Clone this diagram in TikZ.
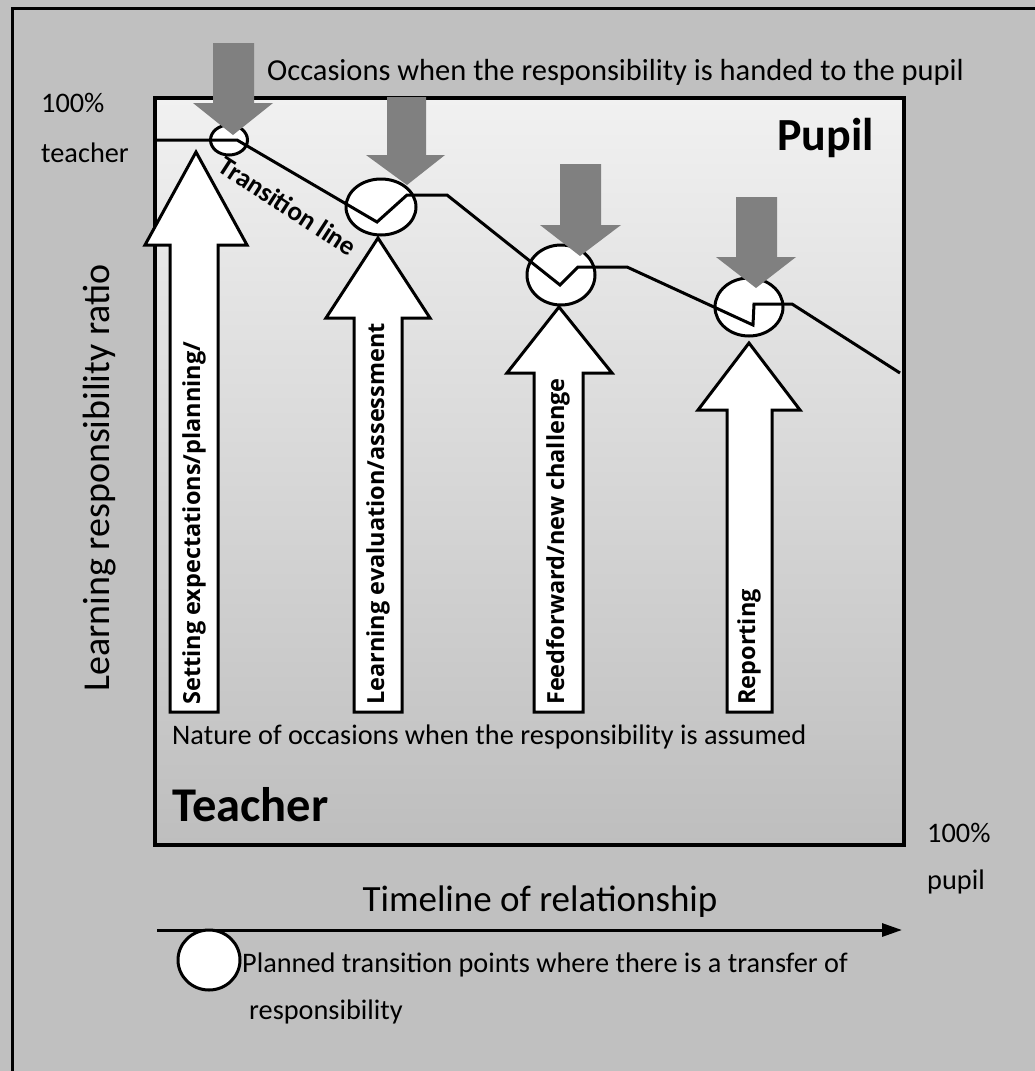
\documentclass[tikz,border=0pt]{standalone}
\usepackage{fontspec}
\setmainfont{Carlito}
\newfontfamily\arrowfont{Open Sans}
\usetikzlibrary{arrows.meta,shapes.geometric}
\definecolor{bg}{RGB}{192,192,192}
\definecolor{boxtop}{RGB}{241,241,241}
\definecolor{boxbot}{RGB}{190,190,190}
\definecolor{downgray}{RGB}{128,128,128}
\tikzset{
  thick line/.style={line width=3pt},
  tpoint/.style={ellipse, draw, fill=white, line width=3pt, inner sep=0pt},
  uparrow/.style={draw, fill=white, line width=3pt, line join=miter},
  downarrow/.style={fill=downgray},
  plain/.style={inner sep=0pt, font=\fontsize{28.3}{33}\selectfont},
  arrowtext/.style={rotate=90, anchor=west, inner sep=0pt, font=\arrowfont\bfseries\fontsize{23.5}{27}\selectfont},
}
\begin{document}
\begin{tikzpicture}[x=1pt,y=-1pt]
\useasboundingbox (0,0) rectangle (1035,1071);
\fill[bg] (0,0) rectangle (1035,1071);
\draw[line width=3pt] (12,1071) -- (12,8) -- (1035,8);

% panel
\node[draw, line width=3.5pt, top color=boxtop, bottom color=boxbot, minimum width=749pt, minimum height=747pt, inner sep=0pt, anchor=north west] (panel) at (153,96) {};

% transition points
\node[tpoint, minimum width=37pt, minimum height=30pt] (c1) at (229,140) {};
\node[tpoint, minimum width=70pt, minimum height=56pt] (c2) at (381,207) {};
\node[tpoint, minimum width=68pt, minimum height=60pt] (c3) at (561,275) {};
\node[tpoint, minimum width=68pt, minimum height=58pt] (c4) at (749,307) {};

% transition line
\coordinate (l0) at (153,140);
\coordinate (l1) at (237,140);
\coordinate (l2) at (377,222);
\coordinate (l3) at (407,195);
\coordinate (l4) at (447,195);
\coordinate (l5) at (560,285);
\coordinate (l6) at (578,267);
\coordinate (l7) at (627,267);
\coordinate (l8) at (753,325);
\coordinate (l9) at (754,304);
\coordinate (l10) at (792,304);
\coordinate (l11) at (900,373);
\draw[thick line, line join=miter] (l0) -- (l1) -- (l2) -- (l3) -- (l4) -- (l5) -- (l6) -- (l7) -- (l8) -- (l9) -- (l10) -- (l11);

\node[rotate=-33, inner sep=0pt, font=\bfseries\fontsize{27}{32}\selectfont] (tline) at (288,206) {Transition line};

% white up arrows
\draw[uparrow] (196,152) -- (247,245) -- (218,245) -- (218,712) -- (170,712) -- (170,245) -- (145,245) -- cycle;
\draw[uparrow] (378,238) -- (430,318) -- (402,318) -- (402,712) -- (354,712) -- (354,318) -- (326,318) -- cycle;
\draw[uparrow] (559,307) -- (612,373) -- (583,373) -- (583,712) -- (534,712) -- (534,373) -- (507,373) -- cycle;
\draw[uparrow] (749,343) -- (800,410) -- (772,410) -- (772,712) -- (727,712) -- (727,410) -- (698,410) -- cycle;

\node[arrowtext] (ta) at (194,705) {Setting expectations/planning/};
\node[arrowtext] (tb) at (378,705) {Learning evaluation/assessment};
\node[arrowtext] (tc) at (558,705) {Feedforward/new challenge};
\node[arrowtext] (td) at (749,705) {Reporting};

% gray down arrows
\fill[downarrow] (213,43) -- (254,43) -- (254,103) -- (273,103) -- (233,135) -- (193,103) -- (213,103) -- cycle;
\fill[downarrow] (387,97) -- (426,97) -- (426,155) -- (445,155) -- (407,185) -- (366,155) -- (387,155) -- cycle;
\fill[downarrow] (560,164) -- (601,164) -- (601,225) -- (621,225) -- (580,256) -- (540,225) -- (560,225) -- cycle;
\fill[downarrow] (736,197) -- (777,197) -- (777,257) -- (796,257) -- (756,288) -- (716,257) -- (736,257) -- cycle;

% texts
\node[plain, anchor=west, font=\fontsize{30.5}{35}\selectfont] (occ) at (267,72) {Occasions when the responsibility is handed to the pupil};
\node[plain, anchor=west] (t100) at (41,103) {100\%};
\node[plain, anchor=west] (tteacher) at (41,153) {teacher};
\node[plain, anchor=east, font=\bfseries\fontsize{46}{52}\selectfont] (pupil) at (874,138) {Pupil};
\node[plain, rotate=90, font=\fontsize{38}{43}\selectfont] (ratio) at (100,478) {Learning responsibility ratio};
\node[plain, anchor=west] (nature) at (172,737) {Nature of occasions when the responsibility is assumed};
\node[plain, anchor=west, font=\bfseries\fontsize{48.5}{54}\selectfont] (teacher) at (172,805) {Teacher};
\node[plain, anchor=west] (p100) at (927,833) {100\%};
\node[plain, anchor=west] (ppupil) at (927,882) {pupil};
\node[plain, font=\fontsize{37}{43}\selectfont] (timeline) at (540,902) {Timeline of relationship};

\coordinate (tlstart) at (157,930);
\coordinate (tlend) at (902,930);
\draw[thick line, -{Triangle[length=20pt,width=13pt]}] (tlstart) -- (tlend);

% legend
\node[tpoint, minimum width=62pt, minimum height=60pt] (legend) at (209,960) {};
\node[plain, anchor=west] (leg1) at (242,965) {Planned transition points where there is a transfer of};
\node[plain, anchor=west] (leg2) at (249,1012) {responsibility};
\end{tikzpicture}
\end{document}
